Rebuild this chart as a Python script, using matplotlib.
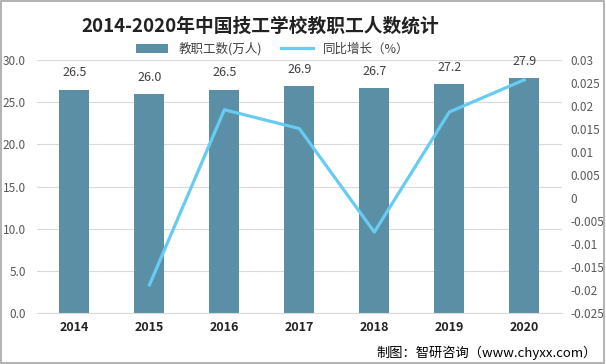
import numpy as np
import matplotlib.pyplot as plt
from matplotlib.ticker import FuncFormatter

plt.rcParams['font.family'] = ['Noto Sans CJK SC', 'DejaVu Sans']

years = ['2014', '2015', '2016', '2017', '2018', '2019', '2020']
staff = [26.5, 26.0, 26.5, 26.9, 26.7, 27.2, 27.9]
growth_years = ['2015', '2016', '2017', '2018', '2019', '2020']
growth = [-0.0189, 0.0192, 0.0151, -0.0074, 0.0187, 0.0257]

bar_color = '#5B8FA6'
line_color = '#66CCF4'
tick_color = '#595959'

fig = plt.figure(figsize=(6.06, 3.64), dpi=100)
ax = fig.add_axes([0.061, 0.14, 0.866, 0.695])
x = np.arange(len(years))
bars = ax.bar(x, staff, width=0.4, color=bar_color, label='教职工数(万人)', zorder=2)
for xi, v in zip(x, staff):
    ax.text(xi, v + 1.2, '%.1f' % v, ha='center', va='bottom', fontsize=9, color='#404040')

ax.set_ylim(0, 30)
ax.set_yticks(np.arange(0, 30.1, 5))
ax.yaxis.set_major_formatter(FuncFormatter(lambda v, p: '%.1f' % v))
ax.set_xlim(-0.5, len(years) - 0.5)
ax.set_xticks(x)
ax.set_xticklabels(years, fontweight='bold', fontsize=9, color='#222222')
ax.grid(axis='y', color='#D9D9D9', linewidth=0.8, zorder=0)
for s in ax.spines.values():
    s.set_visible(False)
ax.spines['bottom'].set_visible(True)
ax.spines['bottom'].set_color('#D9D9D9')
ax.tick_params(axis='both', length=0)
ax.tick_params(axis='y', labelsize=8.5, labelcolor=tick_color, pad=8)
ax.tick_params(axis='x', pad=6)

ax2 = ax.twinx()
gx = [years.index(y) for y in growth_years]
ln, = ax2.plot(gx, growth, color=line_color, linewidth=2.3, label='同比增长（%）', zorder=3)
ax2.set_ylim(-0.025, 0.03)
ax2.set_yticks(np.arange(-0.025, 0.0301, 0.005))
ax2.yaxis.set_major_formatter(FuncFormatter(lambda v, p: '%g' % round(v, 3)))
for s in ax2.spines.values():
    s.set_visible(False)
ax2.tick_params(axis='y', length=0, labelsize=8.5, labelcolor=tick_color, pad=6)

fig.legend(handles=[bars, ln], loc='center', bbox_to_anchor=(0.45, 0.866), ncol=2,
           frameon=False, fontsize=9, handlelength=2.6, columnspacing=1.5,
           labelcolor='#404040')

fig.text(0.43, 0.928, '2014-2020年中国技工学校教职工人数统计', ha='center', va='center',
         fontsize=13.5, fontweight='bold', color='#222222')
fig.text(0.985, 0.032, '制图：智研咨询（www.chyxx.com）', ha='right', va='center',
         fontsize=9.5, color='#000000')

fig.patches.append(plt.Rectangle((0.002, 0.003), 0.995, 0.994, transform=fig.transFigure,
                                 fill=False, edgecolor='#A6A6A6', linewidth=1.2))

fig.savefig('out.png', dpi=100)
